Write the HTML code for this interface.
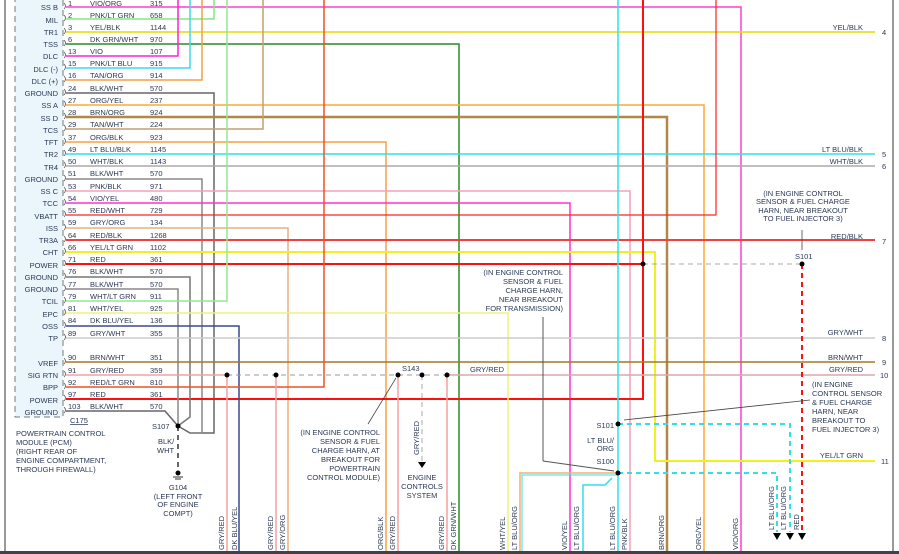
<!DOCTYPE html>
<html><head><meta charset="utf-8"><style>
html,body{margin:0;padding:0;background:#fff;}
svg{display:block;font-family:"Liberation Sans",sans-serif;}
text{fill:#2c3a55;font-size:7.5px;}
</style></head><body>
<svg width="899" height="554" viewBox="0 0 899 554" xmlns="http://www.w3.org/2000/svg">
<rect width="899" height="554" fill="#fff"/>
<line x1="5" y1="0" x2="5" y2="552" stroke="#333" stroke-width="1"/>
<line x1="893" y1="0" x2="893" y2="552" stroke="#333" stroke-width="1"/>
<rect x="15" y="-2" width="48" height="419" fill="#eaf5fc" stroke="#777" stroke-dasharray="6,4" stroke-width="1"/>
<g fill="none" stroke-width="1.5">
<!-- verticals and horizontals -->
<polyline points="66,7 741,7 741,554" stroke="#ff40c8"/>
<polyline points="66,19 214,19 214,0" stroke="#80e880"/>
<polyline points="66,32 875,32" stroke="#e8d800"/>
<polyline points="66,44 459,44 459,554" stroke="#2a8a2a"/>
<polyline points="66,56 178,56 178,0" stroke="#ff20d0"/>
<polyline points="66,68 190,68 190,0" stroke="#40d8e8"/>
<polyline points="66,80 202,80 202,0" stroke="#f0a040"/>
<polyline points="66,93 214,93 214,433 190,433 178,426" stroke="#666"/>
<polyline points="66,105 704,105 704,554" stroke="#ffa830"/>
<polyline points="66,117 667,117 667,554" stroke="#b08848" stroke-width="2.5"/>
<polyline points="66,129 263,129 263,0" stroke="#c0a070"/>
<polyline points="66,142 386,142 386,554" stroke="#f8a040"/>
<polyline points="66,154 875,154" stroke="#30e0e8"/>
<polyline points="66,166 875,166" stroke="#aaa"/>
<polyline points="66,179 202,179 202,433 190,433" stroke="#888"/>
<polyline points="66,191 630,191 630,554" stroke="#f4a0b8"/>
<polyline points="66,203 570,203 570,554" stroke="#ff30d0"/>
<polyline points="66,215 716,215 716,0" stroke="#ff2020" stroke-width="1.2"/>
<polyline points="66,228 288,228 288,554" stroke="#e8b080"/>
<polyline points="66,240 875,240" stroke="#f04040" stroke-width="2"/>
<polyline points="66,252 655,252 655,461 875,461" stroke="#f0f020" stroke-width="2"/>
<polyline points="66,264 643,264" stroke="#ff1010" stroke-width="2"/>
<polyline points="643,0 643,399 66,399" stroke="#ff1010" stroke-width="2"/>
<polyline points="66,277 190,277 190,417 178,426" stroke="#777"/>
<polyline points="66,289 178,289 178,426" stroke="#888"/>
<polyline points="66,301 227,301 227,0" stroke="#90e890"/>
<polyline points="66,313 508,313 508,554" stroke="#f0f080"/>
<polyline points="66,326 239,326 239,554" stroke="#3a4a90"/>
<polyline points="66,338 875,338" stroke="#ccc"/>
<polyline points="66,362 875,362" stroke="#a07a20"/>
<polyline points="66,375 227,375" stroke="#f4a0a0"/>
<polyline points="447,375 875,375" stroke="#d8a8a8"/>
<polyline points="66,387 324,387 324,0" stroke="#f05020"/>
<polyline points="66,411 165,411 178,426" stroke="#666"/>
<line x1="227" y1="375" x2="227" y2="554" stroke="#f4a0a0"/>
<line x1="276" y1="375" x2="276" y2="554" stroke="#f4a0a0"/>
<line x1="398" y1="375" x2="398" y2="554" stroke="#f4a0a0"/>
<line x1="447" y1="375" x2="447" y2="554" stroke="#f4a0a0"/>
<line x1="618" y1="0" x2="618" y2="554" stroke="#30e0e8"/>
<polyline points="618,473 520,473 520,554" stroke="#f0b070"/>
<polyline points="618,475 522,475 522,554" stroke="#30e0e8" stroke-width="1"/>
<polyline points="612,478 605,485 583,485 583,554" stroke="#30e0e8"/>
<line x1="543" y1="317" x2="543" y2="461" stroke="#555" stroke-width="1"/>
<line x1="543" y1="461" x2="614" y2="471" stroke="#555" stroke-width="1"/>
</g>
<g fill="none" stroke-dasharray="5,4">
<line x1="227" y1="375" x2="447" y2="375" stroke="#999" stroke-width="1"/>
<line x1="643" y1="264" x2="802" y2="264" stroke="#aaa" stroke-width="1"/>
<line x1="802" y1="264" x2="802" y2="532" stroke="#ff1010" stroke-width="2"/>
<polyline points="618,424 790,424 790,532" stroke="#30e0e8" stroke-width="2"/>
<polyline points="618,473 777,473 777,532" stroke="#30e0e8" stroke-width="2"/>
<line x1="422" y1="375" x2="422" y2="462" stroke="#aaa" stroke-width="1"/>
<line x1="178" y1="426" x2="178" y2="470" stroke="#333" stroke-width="1.5"/>
</g>
<g fill="#000">
<circle cx="227" cy="375" r="2.5"/><circle cx="276" cy="375" r="2.5"/><circle cx="398" cy="375" r="2.5"/><circle cx="422" cy="375" r="2.5"/><circle cx="447" cy="375" r="2.5"/>
<circle cx="643" cy="264" r="2.5"/><circle cx="802" cy="264" r="2.5"/><circle cx="618" cy="424" r="2.5"/><circle cx="618" cy="473" r="2.5"/><circle cx="178" cy="426" r="2.5"/><circle cx="178" cy="473" r="2.5"/>
<polygon points="418,462 426,462 422,468"/>
<polygon points="773,533 781,533 777,540"/><polygon points="786,533 794,533 790,540"/><polygon points="798,533 806,533 802,540"/>
</g>
<line x1="173" y1="477" x2="183" y2="477" stroke="#333"/>
<line x1="175" y1="479" x2="181" y2="479" stroke="#333"/>
<g stroke="#444" stroke-width="0.8" fill="none">
<line x1="368" y1="424" x2="396" y2="378"/>
<line x1="802" y1="230" x2="802" y2="250"/>
<line x1="810" y1="400" x2="624" y2="420"/>
</g>
<rect x="0" y="551" width="899" height="3" fill="#3a4450"/>
<g text-anchor="end">
<text x="58" y="10">SS B</text><text x="58" y="23">MIL</text><text x="58" y="35">TR1</text><text x="58" y="47">TSS</text><text x="58" y="59">DLC</text><text x="58" y="72">DLC (-)</text><text x="58" y="84">DLC (+)</text><text x="58" y="96">GROUND</text><text x="58" y="108">SS A</text><text x="58" y="121">SS D</text><text x="58" y="133">TCS</text><text x="58" y="145">TFT</text><text x="58" y="157">TR2</text><text x="58" y="170">TR4</text><text x="58" y="182">GROUND</text><text x="58" y="194">SS C</text><text x="58" y="206">TCC</text><text x="58" y="219">VBATT</text><text x="58" y="231">ISS</text><text x="58" y="243">TR3A</text><text x="58" y="255">CHT</text><text x="58" y="268">POWER</text><text x="58" y="280">GROUND</text><text x="58" y="292">GROUND</text><text x="58" y="304">TCIL</text><text x="58" y="317">EPC</text><text x="58" y="329">OSS</text><text x="58" y="341">TP</text><text x="58" y="366">VREF</text><text x="58" y="378">SIG RTN</text><text x="58" y="390">BPP</text><text x="58" y="403">POWER</text><text x="58" y="415">GROUND</text>
<text x="863" y="30">YEL/BLK</text><text x="863" y="152">LT BLU/BLK</text><text x="863" y="164">WHT/BLK</text><text x="863" y="239">RED/BLK</text><text x="863" y="335">GRY/WHT</text><text x="863" y="360">BRN/WHT</text><text x="863" y="372">GRY/RED</text><text x="863" y="458">YEL/LT GRN</text>
<text x="563" y="275">(IN ENGINE CONTROL</text><text x="563" y="284">SENSOR &amp; FUEL</text><text x="563" y="293">CHARGE HARN,</text><text x="563" y="302">NEAR BREAKOUT</text><text x="563" y="311">FOR TRANSMISSION)</text>
<text x="380" y="435">(IN ENGINE CONTROL</text><text x="380" y="444">SENSOR &amp; FUEL</text><text x="380" y="453">CHARGE HARN, AT</text><text x="380" y="462">BREAKOUT FOR</text><text x="380" y="471">POWERTRAIN</text><text x="380" y="480">CONTROL MODULE)</text>
<text x="614" y="428">S101</text><text x="614" y="443">LT BLU/</text><text x="614" y="451">ORG</text><text x="614" y="464">S100</text>
</g>
<g>
<text x="68" y="6">1</text><text x="90" y="6">VIO/ORG</text><text x="150" y="6">315</text>
<text x="68" y="18">2</text><text x="90" y="18">PNK/LT GRN</text><text x="150" y="18">658</text>
<text x="68" y="30">3</text><text x="90" y="30">YEL/BLK</text><text x="150" y="30">1144</text>
<text x="68" y="42">6</text><text x="90" y="42">DK GRN/WHT</text><text x="150" y="42">970</text>
<text x="68" y="54">13</text><text x="90" y="54">VIO</text><text x="150" y="54">107</text>
<text x="68" y="66">15</text><text x="90" y="66">PNK/LT BLU</text><text x="150" y="66">915</text>
<text x="68" y="78">16</text><text x="90" y="78">TAN/ORG</text><text x="150" y="78">914</text>
<text x="68" y="91">24</text><text x="90" y="91">BLK/WHT</text><text x="150" y="91">570</text>
<text x="68" y="103">27</text><text x="90" y="103">ORG/YEL</text><text x="150" y="103">237</text>
<text x="68" y="115">28</text><text x="90" y="115">BRN/ORG</text><text x="150" y="115">924</text>
<text x="68" y="127">29</text><text x="90" y="127">TAN/WHT</text><text x="150" y="127">224</text>
<text x="68" y="140">37</text><text x="90" y="140">ORG/BLK</text><text x="150" y="140">923</text>
<text x="68" y="152">49</text><text x="90" y="152">LT BLU/BLK</text><text x="150" y="152">1145</text>
<text x="68" y="164">50</text><text x="90" y="164">WHT/BLK</text><text x="150" y="164">1143</text>
<text x="68" y="176">51</text><text x="90" y="176">BLK/WHT</text><text x="150" y="176">570</text>
<text x="68" y="189">53</text><text x="90" y="189">PNK/BLK</text><text x="150" y="189">971</text>
<text x="68" y="201">54</text><text x="90" y="201">VIO/YEL</text><text x="150" y="201">480</text>
<text x="68" y="213">55</text><text x="90" y="213">RED/WHT</text><text x="150" y="213">729</text>
<text x="68" y="225">59</text><text x="90" y="225">GRY/ORG</text><text x="150" y="225">134</text>
<text x="68" y="238">64</text><text x="90" y="238">RED/BLK</text><text x="150" y="238">1268</text>
<text x="68" y="250">66</text><text x="90" y="250">YEL/LT GRN</text><text x="150" y="250">1102</text>
<text x="68" y="262">71</text><text x="90" y="262">RED</text><text x="150" y="262">361</text>
<text x="68" y="274">76</text><text x="90" y="274">BLK/WHT</text><text x="150" y="274">570</text>
<text x="68" y="287">77</text><text x="90" y="287">BLK/WHT</text><text x="150" y="287">570</text>
<text x="68" y="299">79</text><text x="90" y="299">WHT/LT GRN</text><text x="150" y="299">911</text>
<text x="68" y="311">81</text><text x="90" y="311">WHT/YEL</text><text x="150" y="311">925</text>
<text x="68" y="323">84</text><text x="90" y="323">DK BLU/YEL</text><text x="150" y="323">136</text>
<text x="68" y="336">89</text><text x="90" y="336">GRY/WHT</text><text x="150" y="336">355</text>
<text x="68" y="360">90</text><text x="90" y="360">BRN/WHT</text><text x="150" y="360">351</text>
<text x="68" y="373">91</text><text x="90" y="373">GRY/RED</text><text x="150" y="373">359</text>
<text x="68" y="385">92</text><text x="90" y="385">RED/LT GRN</text><text x="150" y="385">810</text>
<text x="68" y="397">97</text><text x="90" y="397">RED</text><text x="150" y="397">361</text>
<text x="68" y="409">103</text><text x="90" y="409">BLK/WHT</text><text x="150" y="409">570</text>
<text x="70" y="423" text-decoration="underline">C175</text>
<text x="16" y="436">POWERTRAIN CONTROL</text><text x="16" y="445">MODULE (PCM)</text><text x="16" y="454">(RIGHT REAR OF</text><text x="16" y="463">ENGINE COMPARTMENT,</text><text x="16" y="472">THROUGH FIREWALL)</text>
<text x="152" y="429">S107</text><text x="158" y="444">BLK/</text><text x="157" y="453">WHT</text>
<text x="178" y="490" text-anchor="middle">G104</text><text x="178" y="499" text-anchor="middle">(LEFT FRONT</text><text x="178" y="507" text-anchor="middle">OF ENGINE</text><text x="178" y="516" text-anchor="middle">COMPT)</text>
<text x="402" y="371">S143</text><text x="470" y="372">GRY/RED</text>
<text x="422" y="480" text-anchor="middle">ENGINE</text><text x="422" y="489" text-anchor="middle">CONTROLS</text><text x="422" y="498" text-anchor="middle">SYSTEM</text>
<text x="803" y="196" text-anchor="middle">(IN ENGINE CONTROL</text><text x="803" y="204" text-anchor="middle">SENSOR &amp; FUEL CHARGE</text><text x="803" y="213" text-anchor="middle">HARN, NEAR BREAKOUT</text><text x="803" y="221" text-anchor="middle">TO FUEL INJECTOR 3)</text>
<text x="795" y="259">S101</text>
<text x="812" y="387">(IN ENGINE</text><text x="812" y="396">CONTROL SENSOR</text><text x="812" y="405">&amp; FUEL CHARGE</text><text x="812" y="414">HARN, NEAR</text><text x="812" y="423">BREAKOUT TO</text><text x="812" y="432">FUEL INJECTOR 3)</text>
<text x="882" y="35">4</text><text x="882" y="157">5</text><text x="882" y="169">6</text><text x="882" y="244">7</text><text x="882" y="341">8</text><text x="882" y="365">9</text><text x="880" y="378">10</text><text x="881" y="464">11</text>
</g>
<g>
<text transform="translate(224,550) rotate(-90)">GRY/RED</text>
<text transform="translate(237,550) rotate(-90)">DK BLU/YEL</text>
<text transform="translate(273,550) rotate(-90)">GRY/RED</text>
<text transform="translate(285,550) rotate(-90)">GRY/ORG</text>
<text transform="translate(383,550) rotate(-90)">ORG/BLK</text>
<text transform="translate(395,550) rotate(-90)">GRY/RED</text>
<text transform="translate(444,550) rotate(-90)">GRY/RED</text>
<text transform="translate(456,550) rotate(-90)">DK GRN/WHT</text>
<text transform="translate(505,550) rotate(-90)">WHT/YEL</text>
<text transform="translate(517,550) rotate(-90)">LT BLU/ORG</text>
<text transform="translate(567,550) rotate(-90)">VIO/YEL</text>
<text transform="translate(579,550) rotate(-90)">LT BLU/ORG</text>
<text transform="translate(615,550) rotate(-90)">LT BLU/ORG</text>
<text transform="translate(627,550) rotate(-90)">PNK/BLK</text>
<text transform="translate(664,550) rotate(-90)">BRN/ORG</text>
<text transform="translate(701,550) rotate(-90)">ORG/YEL</text>
<text transform="translate(738,550) rotate(-90)">VIO/ORG</text>
<text transform="translate(774,530) rotate(-90)">LT BLU/ORG</text>
<text transform="translate(786,530) rotate(-90)">LT BLU/ORG</text>
<text transform="translate(799,530) rotate(-90)">RED</text>
<text transform="translate(419,455) rotate(-90)">GRY/RED</text>
</g>
<g fill="none" stroke="#555" stroke-width="0.8">
<path d="M64,3 q3,3 0,6 M64,15 q3,3 0,6 M64,28 q3,3 0,6 M64,40 q3,3 0,6 M64,52 q3,3 0,6 M64,64 q3,3 0,6 M64,76 q3,3 0,6 M64,89 q3,3 0,6 M64,101 q3,3 0,6 M64,113 q3,3 0,6 M64,125 q3,3 0,6 M64,138 q3,3 0,6 M64,150 q3,3 0,6 M64,162 q3,3 0,6 M64,175 q3,3 0,6 M64,187 q3,3 0,6 M64,199 q3,3 0,6 M64,211 q3,3 0,6 M64,224 q3,3 0,6 M64,236 q3,3 0,6 M64,248 q3,3 0,6 M64,260 q3,3 0,6 M64,273 q3,3 0,6 M64,285 q3,3 0,6 M64,297 q3,3 0,6 M64,309 q3,3 0,6 M64,322 q3,3 0,6 M64,334 q3,3 0,6 M64,358 q3,3 0,6 M64,371 q3,3 0,6 M64,383 q3,3 0,6 M64,395 q3,3 0,6 M64,407 q3,3 0,6"/>
</g>
</svg>
</body></html>
